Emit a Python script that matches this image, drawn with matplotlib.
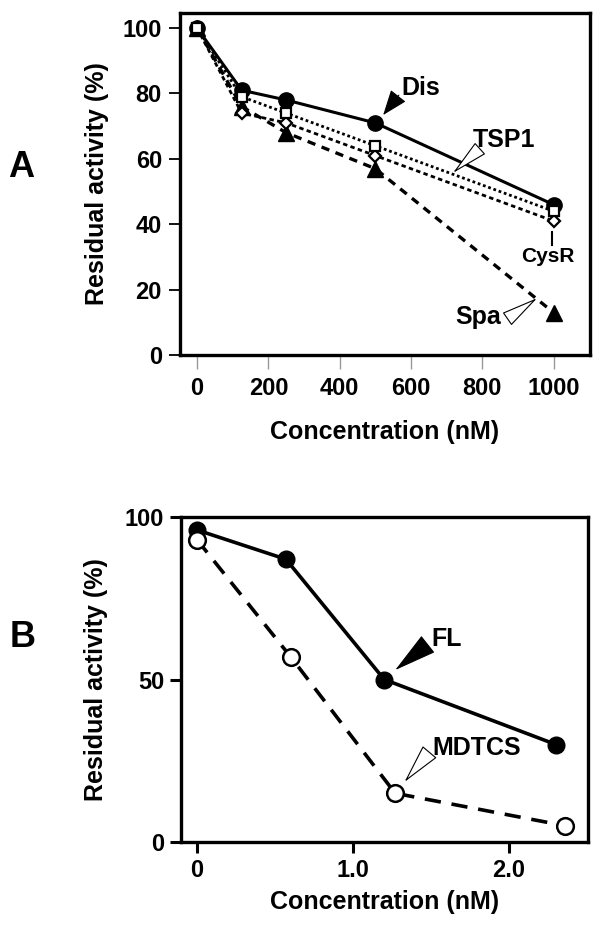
import matplotlib
matplotlib.use("Agg")
import matplotlib.pyplot as plt

plt.rcParams['font.family'] = ['Liberation Sans', 'DejaVu Sans']
plt.rcParams['font.weight'] = 'bold'

# panel A: inhibition by the domains
conc_a = [0, 125, 250, 500, 1000]
dis = [100, 81, 78, 71, 46]
tsp1 = [100, 79, 74, 64, 44]
cysr = [100, 74, 71, 61, 41]
spa = [100, 76, 68, 57, 13]
xticks_a = [0, 200, 400, 600, 800, 1000]
yticks_a = [0, 20, 40, 60, 80, 100]

# panel B: full length vs MDTCS
conc_fl = [0, 0.57, 1.2, 2.3]
fl = [96, 87, 50, 30]
conc_md = [0, 0.6, 1.27, 2.36]
mdtcs = [93, 57, 15, 5]
xticks_b = [0, 1.0, 2.0]
xlabels_b = ['0', '1.0', '2.0']
yticks_b = [0, 50, 100]


def pointer(ax, tail, tip, filled, hl=0.9, hw=0.4):
    # arrowhead-only pointer like in the figure
    fc = 'k' if filled else 'white'
    ax.annotate('', xy=tip, xytext=tail,
                arrowprops=dict(arrowstyle=f'-|>,head_length={hl},head_width={hw}',
                                fc=fc, ec='k', lw=0.8, mutation_scale=20,
                                shrinkA=0, shrinkB=0), zorder=6)


fig = plt.figure(figsize=(6.05, 9.33), dpi=100)

# ---- A ----
ax = fig.add_axes([0.2975, 0.6195, 0.6775, 0.3665])
ax.plot(conc_a, spa, color='k', lw=2.4, ls=(0, (2.5, 2)), marker='^', ms=11,
        mfc='k', mec='k', zorder=3)
ax.plot(conc_a, cysr, color='k', lw=2.0, ls=(0, (1.6, 1.2)), marker='D', ms=6,
        mfc='white', mec='k', mew=1.6, zorder=4)
ax.plot(conc_a, tsp1, color='k', lw=2.0, ls=(0, (1, 1)), marker='s', ms=7,
        mfc='white', mec='k', mew=1.6, zorder=5)
ax.plot(conc_a, dis, color='k', lw=2.2, ls='-', marker='o', ms=11,
        mfc='k', mec='k', zorder=2)

ax.set_xlim(-48, 1102)
ax.set_ylim(0, 104.6)
ax.set_xticks(xticks_a)
ax.set_yticks(yticks_a)
for s in ax.spines.values():
    s.set_linewidth(2.4)
ax.tick_params(axis='y', direction='out', length=8, width=1.3, labelsize=17, pad=5)
ax.tick_params(axis='x', direction='out', length=10, width=1, color='#999999',
               labelsize=17, pad=6)
ax.set_xlabel('Concentration (nM)', fontsize=18, fontweight='bold', labelpad=14)
ax.set_ylabel('Residual activity (%)', fontsize=18, fontweight='bold', labelpad=10)

ax.text(628, 81.7, 'Dis', fontsize=18, fontweight='bold', ha='center', va='center')
pointer(ax, (566, 79.5), (522, 73.4), True, hl=0.8, hw=0.3)
ax.text(862, 65.7, 'TSP1', fontsize=18, fontweight='bold', ha='center', va='center')
pointer(ax, (785, 62.3), (718, 55.7), False, hl=1.2, hw=0.25)
ax.text(985, 30, 'CysR', fontsize=15, fontweight='bold', ha='center', va='center')
ax.plot([995, 995], [33.6, 37.6], color='k', lw=1.5)
ax.text(790, 11.6, 'Spa', fontsize=18, fontweight='bold', ha='center', va='center')
pointer(ax, (888, 12.4), (954, 17.4), False, hl=1.2, hw=0.25)

fig.text(0.035, 0.82, 'A', fontsize=26, fontweight='bold', ha='center', va='center')

# ---- B ----
bx = fig.add_axes([0.299, 0.0975, 0.673, 0.3484])
bx.plot(conc_md, mdtcs, color='k', lw=2.6, ls=(0, (4.5, 3)), marker='o', ms=12,
        mfc='white', mec='k', mew=1.8, zorder=3)
bx.plot(conc_fl, fl, color='k', lw=2.6, ls='-', marker='o', ms=12,
        mfc='k', mec='k', zorder=2)

bx.set_xlim(-0.103, 2.506)
bx.set_ylim(0, 100)
bx.set_xticks(xticks_b)
bx.set_xticklabels(xlabels_b)
bx.set_yticks(yticks_b)
for s in bx.spines.values():
    s.set_linewidth(2.4)
bx.tick_params(axis='both', direction='out', length=8, width=2.2, labelsize=17, pad=4)
bx.set_xlabel('Concentration (nM)', fontsize=18, fontweight='bold', labelpad=6)
bx.set_ylabel('Residual activity (%)', fontsize=18, fontweight='bold', labelpad=12)

bx.text(1.6, 62.5, 'FL', fontsize=18, fontweight='bold', ha='center', va='center')
pointer(bx, (1.47, 60.5), (1.27, 52.9), True, hl=1.4, hw=0.35)
bx.text(1.79, 28.8, 'MDTCS', fontsize=18, fontweight='bold', ha='center', va='center')
pointer(bx, (1.47, 26.5), (1.33, 18.5), False, hl=1.3, hw=0.3)

fig.text(0.037, 0.317, 'B', fontsize=26, fontweight='bold', ha='center', va='center')

fig.savefig('out.png', dpi=100)
